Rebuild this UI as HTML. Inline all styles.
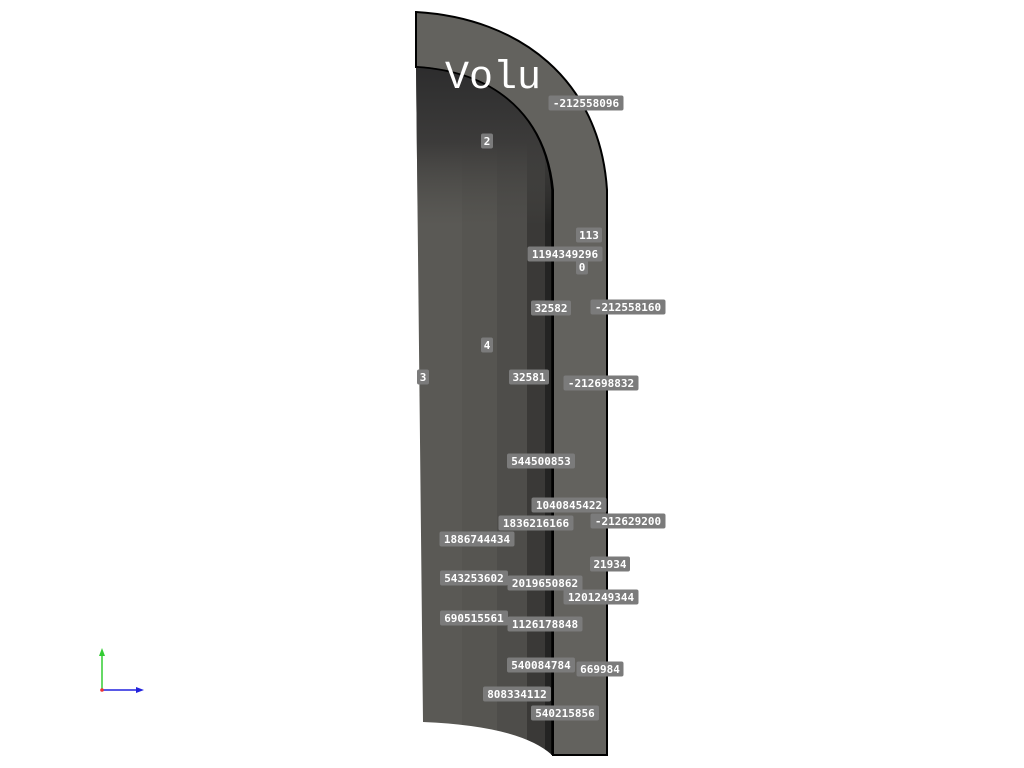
<!DOCTYPE html>
<html><head><meta charset="utf-8"><style>html,body{margin:0;padding:0;background:#fff;width:1024px;height:768px;overflow:hidden}</style></head>
<body>
<svg id="scene" width="1024" height="768" viewBox="0 0 1024 768" xmlns="http://www.w3.org/2000/svg">
<defs>
<clipPath id="inner"><path d="M416,67 C500,72 546,120 552,190 L552,755 Q520,726 423,722 L416,67 Z"/></clipPath>
<clipPath id="titleclip"><path d="M0,0 L416,0 L416,67 C500,72 546,120 552,190 L560,190 C556,110 520,60 480,40 L560,40 L566,60 L575,100 L0,100 Z"/></clipPath>
<linearGradient id="dome" x1="0" y1="0" x2="0" y2="1"><stop offset="0" stop-color="#2b2b2c"/><stop offset="0.5" stop-color="#3c3b3a"/><stop offset="1" stop-color="#4b4a47" stop-opacity="0"/></linearGradient>
</defs>
<path d="M416,12 C520,18 600,80 607,190 L607,755 L553,755 L553,190 C546,120 500,72 416,67 Z" fill="#63625e" stroke="#000" stroke-width="2"/>
<g clip-path="url(#inner)">
<rect x="410" y="60" width="52" height="700" fill="#5a5955"/>
<rect x="462" y="60" width="35" height="700" fill="#565551"/>
<rect x="497" y="60" width="30" height="700" fill="#4e4d4a"/>
<rect x="527" y="60" width="18" height="700" fill="#3a3937"/>
<rect x="545" y="60" width="8" height="700" fill="#242423"/>
<rect x="410" y="60" width="145" height="165" fill="url(#dome)"/>
</g>
<path d="M416,67 C500,72 546,120 552,190 L552,755" fill="none" stroke="#000" stroke-width="1.5"/>
<text x="445" y="88" font-family="'Liberation Mono', monospace" font-size="40" fill="#fff">Volu</text>
<g id="labels"></g>
<g>
<line x1="102" y1="690" x2="102" y2="654" stroke="#3c3" stroke-width="1.5"/>
<polygon points="102,648 99,656 105,656" fill="#3c3"/>
<line x1="102" y1="690" x2="138" y2="690" stroke="#22d" stroke-width="1.5"/>
<polygon points="144,690 136,687 136,693" fill="#22d"/>
<circle cx="102" cy="690" r="1.8" fill="#e33"/>
</g>
</svg>
<script>
const labelTexts=["-212558096","2","113","1194349296","0","32582","-212558160","4","3","32581","-212698832","544500853","1040845422","1836216166","-212629200","1886744434","21934","543253602","2019650862","1201249344","690515561","1126178848","540084784","669984","808334112","540215856"];
const labelX=[586,487,589,565,582,551,628,487,423,529,601,541,569,536,628,477,610,474,545,601,474,545,541,600,517,565];
const labelY=[103,141,235,254,267,308,307,345,377,377,383,461,505,523,521,539,564,578,583,597,618,624,665,669,694,713];
const g=document.getElementById('labels');
const NS='http://www.w3.org/2000/svg';
labelTexts.forEach((t,i)=>{
  const w=t.length*7+5;
  const r=document.createElementNS(NS,'rect');
  r.setAttribute('x',labelX[i]-w/2);r.setAttribute('y',labelY[i]-7.5);
  r.setAttribute('width',w);r.setAttribute('height',15);r.setAttribute('rx',2);
  r.setAttribute('fill','#7b7b7b');
  
  
  g.appendChild(r);
  const tx=document.createElementNS(NS,'text');
  tx.setAttribute('x',labelX[i]);tx.setAttribute('y',labelY[i]+4);
  tx.setAttribute('text-anchor','middle');tx.setAttribute('font-family','DejaVu Sans Mono, Liberation Mono, monospace');
  tx.setAttribute('font-size','11');tx.setAttribute('font-weight','bold');tx.setAttribute('fill','#fff');
  tx.textContent=t;
  
  
  g.appendChild(tx);
});
</script>
</body></html>
